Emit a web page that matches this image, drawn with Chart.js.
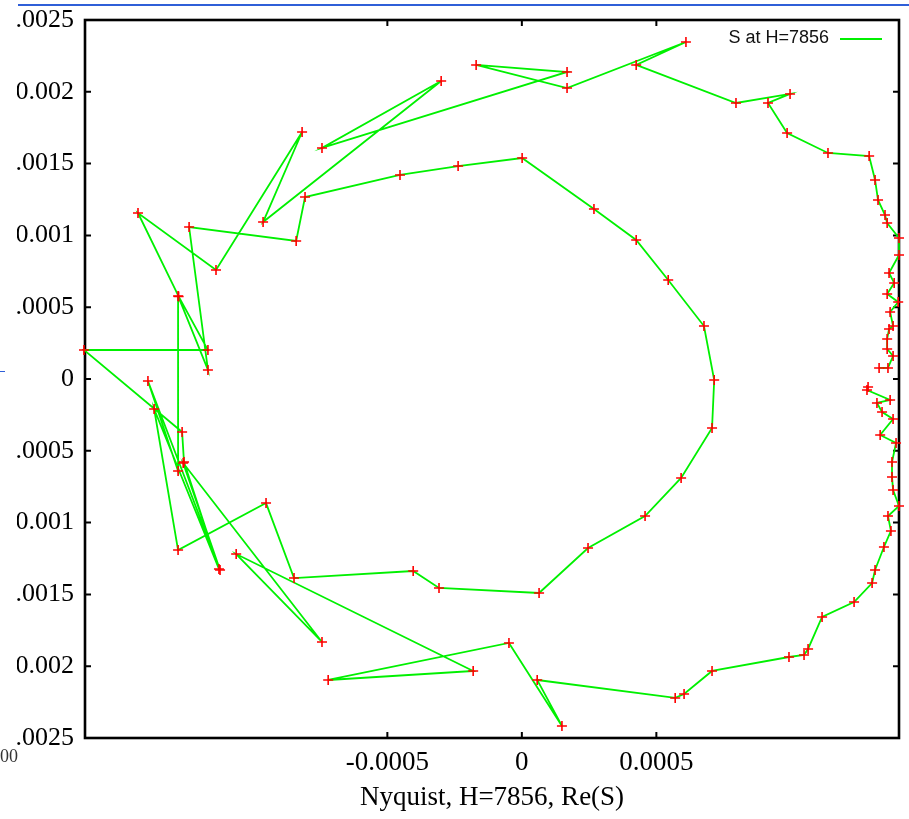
<!DOCTYPE html>
<html>
<head>
<meta charset="utf-8">
<title>Nyquist, H=7856</title>
<script src="https://cdn.jsdelivr.net/npm/chart.js@4/dist/chart.umd.min.js"></script>
<style>
  html, body { margin: 0; padding: 0; background: #fff; }
  #wrap { position: relative; width: 909px; height: 819px; overflow: hidden; }
  #c { position: absolute; left: 0; top: 0; }
  #edge { position: absolute; left: 0; top: 8px; width: 17px; height: 740px; background: #fff; }
  .rule { position: absolute; background: #2f5fd8; }
  #corner { position: absolute; left: 0; top: 746px; font: 18px 'Liberation Serif', serif; color: #333; }
</style>
</head>
<body>
<div id="wrap">
  <canvas id="c" width="909" height="819"></canvas>
  <div id="edge"></div>
  <div class="rule" style="left:18px;top:4px;width:891px;height:2px;"></div>
  <div class="rule" style="left:0;top:371px;width:5px;height:1px;"></div>
  <div id="corner">00</div>
</div>
<script>
// Re(S) and Im(S) of the response at H=7856, in sweep order
const RE_S = [
  0.001287, 0.001283, 0.001369, 0.001320, 0.001339, 0.001380, 0.001332, 0.001391, 0.001376, 0.001376,
  0.001380, 0.001402, 0.001361, 0.001372, 0.001346, 0.001313, 0.001302, 0.001235, 0.001116, 0.001064,
  0.001049, 0.000993, 0.000707, 0.000603, 0.000570, 0.000057, 0.000149, -0.000048, -0.000720, -0.000181,
  -0.001062, -0.000743, -0.001259, -0.001122, -0.001390, -0.001278, -0.001278, -0.001167, -0.001237, -0.000839,
  -0.000806, -0.000453, -0.000237, 0.000001, 0.000268, 0.000425, 0.000544, 0.000677, 0.000715, 0.000707,
  0.000592, 0.000458, 0.000246, 0.000064, -0.000308, -0.000404, -0.000847, -0.000951, -0.001278, -0.001367,
  -0.001126, -0.001256, -0.001263, -0.001628, -0.001167, -0.001276, -0.001427, -0.001137, -0.000817, -0.000962,
  -0.000300, -0.000743, 0.000168, -0.000170, 0.000168, 0.000610, 0.000425, 0.000796, 0.000997, 0.000915,
  0.000986, 0.001138, 0.001291, 0.001313, 0.001324, 0.001350, 0.001358, 0.001402, 0.001402, 0.001365,
  0.001384, 0.001358, 0.001399, 0.001369, 0.001380, 0.001365, 0.001358, 0.001358, 0.001380, 0.001361,
  0.001328
];
const IM_S = [
  -0.000056, -0.000077, -0.000146, -0.000167, -0.000230, -0.000279, -0.000390, -0.000446, -0.000578, -0.000682,
  -0.000773, -0.000884, -0.000954, -0.001058, -0.001170, -0.001330, -0.001421, -0.001553, -0.001657, -0.001880,
  -0.001922, -0.001936, -0.002033, -0.002194, -0.002221, -0.002096, -0.002416, -0.001838, -0.002096, -0.002033,
  -0.001219, -0.001831, -0.000585, -0.001330, -0.000014, -0.000641, 0.000578, 0.000063, 0.001058, 0.000961,
  0.001267, 0.001421, 0.001483, 0.001539, 0.001184, 0.000968, 0.000689, 0.000369, -0.000007, -0.000341,
  -0.000689, -0.000954, -0.001177, -0.001490, -0.001455, -0.001337, -0.001386, -0.000864, -0.001191, -0.000209,
  -0.001323, -0.000578, -0.000369, 0.000202, 0.000202, 0.000575, 0.001156, 0.000759, 0.001720, 0.001093,
  0.002075, 0.001609, 0.002138, 0.002187, 0.002026, 0.002347, 0.002187, 0.001922, 0.001985, 0.001922,
  0.001713, 0.001574, 0.001553, 0.001386, 0.001247, 0.001142, 0.001086, 0.000982, 0.000864, 0.000738,
  0.000669, 0.000592, 0.000536, 0.000467, 0.000369, 0.000348, 0.000279, 0.000209, 0.000160, 0.000077,
  0.000077
];

const SERIES_LABEL = 'S at H=7856';
const X_TITLE = 'Nyquist, H=7856, Re(S)';

const X_MIN = -0.001624, X_MAX = 0.001402;
const Y_MIN = -0.0025, Y_MAX = 0.0025;

const X_TICKS = [-0.0005, 0, 0.0005];
const X_TICK_LABELS = ['-0.0005', '0', '0.0005'];
const Y_TICKS = [-0.0025, -0.002, -0.0015, -0.001, -0.0005, 0, 0.0005, 0.001, 0.0015, 0.002, 0.0025];
const Y_TICK_LABELS = ['-0.0025', '-0.002', '-0.0015', '-0.001', '-0.0005', '0', '0.0005', '0.001', '0.0015', '0.002', '0.0025'];

const LINE_GREEN = '#00f000';
const MARK_RED = '#ff0000';
const SERIF = "'Liberation Serif', 'Times New Roman', serif";

// Plot frame with inward tick marks on all four sides
const framePlugin = {
  id: 'frame',
  beforeDatasetsDraw(chart) {
    const { ctx, chartArea: a, scales } = chart;
    const len = 6;
    ctx.save();
    ctx.strokeStyle = '#000';
    ctx.lineWidth = 2;
    ctx.beginPath();
    Y_TICKS.forEach(v => {
      const py = scales.y.getPixelForValue(v);
      ctx.moveTo(a.left, py); ctx.lineTo(a.left + len, py);
      ctx.moveTo(a.right, py); ctx.lineTo(a.right - len, py);
    });
    X_TICKS.forEach(v => {
      const px = scales.x.getPixelForValue(v);
      ctx.moveTo(px, a.bottom); ctx.lineTo(px, a.bottom - len);
      ctx.moveTo(px, a.top); ctx.lineTo(px, a.top + len);
    });
    ctx.stroke();
    ctx.lineWidth = 2.6;
    ctx.strokeRect(a.left, a.top, a.right - a.left, a.bottom - a.top);
    ctx.restore();
  },
  afterDraw(chart) {
    // key in the upper right corner: label, then a line sample
    const { ctx, chartArea: a } = chart;
    ctx.save();
    ctx.font = "18px 'Liberation Sans', Arial, sans-serif";
    ctx.fillStyle = '#111';
    ctx.textAlign = 'right';
    ctx.textBaseline = 'middle';
    ctx.fillText(SERIES_LABEL, a.right - 70, a.top + 18);
    ctx.strokeStyle = LINE_GREEN;
    ctx.lineWidth = 2;
    ctx.beginPath();
    ctx.moveTo(a.right - 59, a.top + 19);
    ctx.lineTo(a.right - 17, a.top + 19);
    ctx.stroke();
    ctx.restore();
  }
};

new Chart(document.getElementById('c'), {
  type: 'scatter',
  data: {
    datasets: [{
      label: SERIES_LABEL,
      data: RE_S.map((re, i) => ({ x: re, y: IM_S[i] })),
      showLine: true,
      borderColor: LINE_GREEN,
      borderWidth: 1.8,
      pointStyle: 'cross',
      pointRadius: 5,
      pointBorderColor: MARK_RED,
      pointBackgroundColor: MARK_RED,
      pointBorderWidth: 1.6,
      tension: 0,
      clip: 6
    }]
  },
  options: {
    responsive: false,
    animation: false,
    devicePixelRatio: 1,
    layout: { padding: { top: 20, right: 10, left: 0, bottom: 0 } },
    plugins: {
      legend: { display: false },
      tooltip: { enabled: false }
    },
    scales: {
      x: {
        type: 'linear',
        position: 'bottom',
        min: X_MIN,
        max: X_MAX,
        grid: { display: false, drawTicks: false, tickLength: 0 },
        border: { display: false },
        afterBuildTicks: s => { s.ticks = X_TICKS.map(v => ({ value: v })); },
        afterFit: s => { s.height = 81; s.paddingLeft = 0; s.paddingRight = 0; },
        ticks: {
          autoSkip: false,
          maxRotation: 0,
          padding: 9,
          color: '#000',
          font: { family: SERIF, size: 27 },
          callback: (v, i) => X_TICK_LABELS[i]
        },
        title: {
          display: true,
          text: X_TITLE,
          color: '#000',
          font: { family: SERIF, size: 27 },
          padding: { top: 0, bottom: 5 }
        }
      },
      y: {
        type: 'linear',
        position: 'left',
        min: Y_MIN,
        max: Y_MAX,
        grid: { display: false, drawTicks: false, tickLength: 0 },
        border: { display: false },
        afterBuildTicks: s => { s.ticks = Y_TICKS.map(v => ({ value: v })); },
        afterFit: s => { s.width = 85; s.paddingTop = 0; s.paddingBottom = 0; },
        ticks: {
          autoSkip: false,
          padding: 11,
          color: '#000',
          font: { family: SERIF, size: 26 },
          callback: (v, i) => Y_TICK_LABELS[i]
        }
      }
    }
  },
  plugins: [framePlugin]
});
</script>
</body>
</html>
